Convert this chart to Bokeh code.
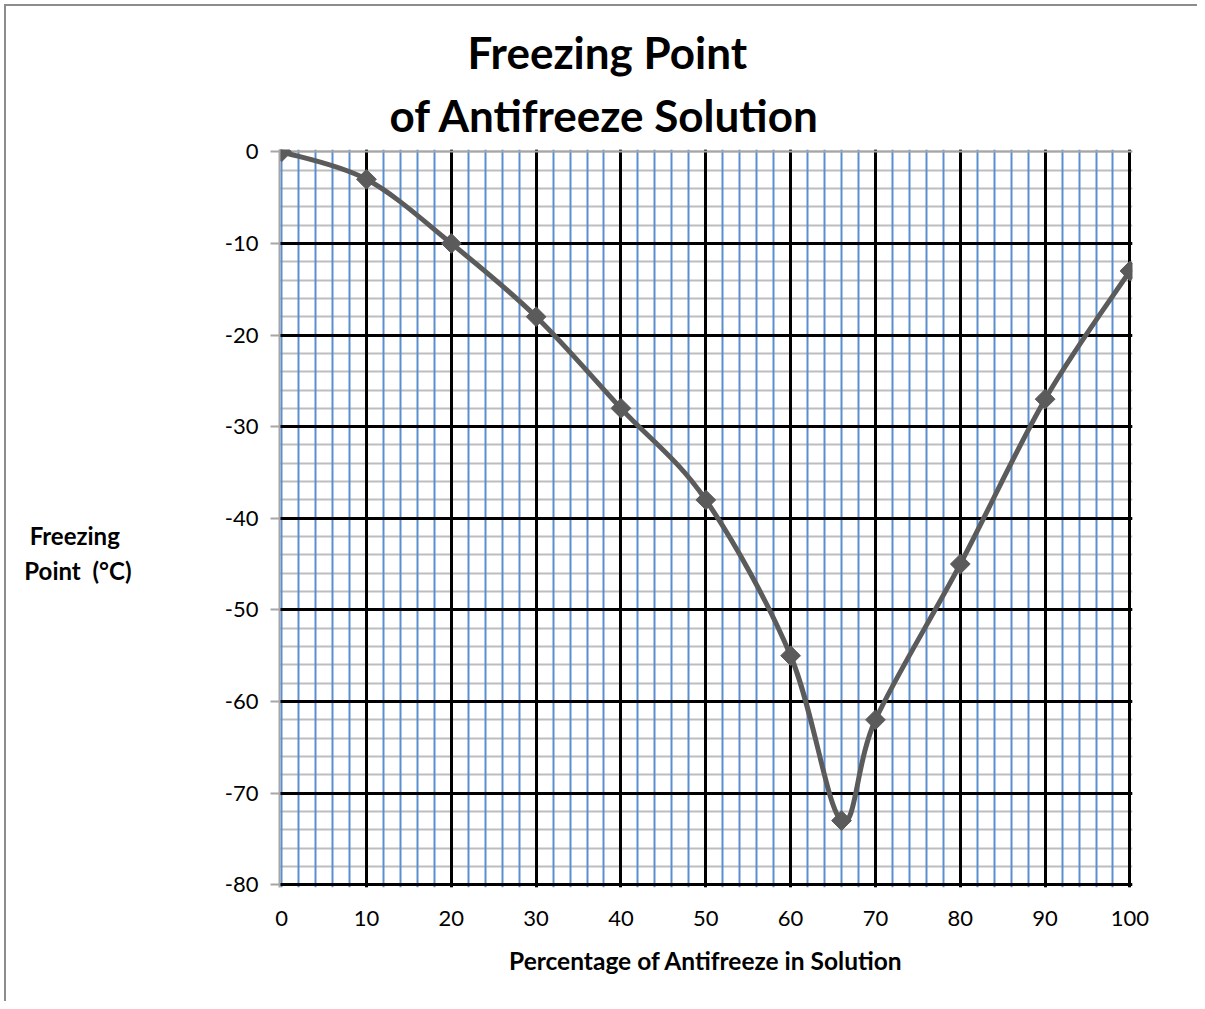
import numpy as np
from bokeh.plotting import figure
from bokeh.models import (Range1d, Grid, SingleIntervalTicker, FixedTicker,
                          LinearAxis, Title)
from bokeh.embed import file_html
from bokeh.resources import INLINE

# ---- data ----
percent = [0, 10, 20, 30, 40, 50, 60, 66, 70, 80, 90, 100]
freezing = [0, -3, -10, -18, -28, -38, -55, -73, -62, -45, -27, -13]
x_ticks = [0, 10, 20, 30, 40, 50, 60, 70, 80, 90, 100]
y_ticks = [-80, -70, -60, -50, -40, -30, -20, -10, 0]
title_lines = ["Freezing Point", "of Antifreeze Solution"]
x_label = "Percentage of Antifreeze in Solution"
y_label_lines = ["Freezing\u00a0\u00a0", "Point\u00a0 (°C)"]

FONT = "Lato"
LINE_COLOR = "#5b5b5b"
SHIFT = 6  # page offset introduced by margin + border

XR = (-0.25, 100.3)
YR = (-80.3, 0.25)

p = figure(width=1199, height=1001 - SHIFT, output_backend="svg",
           toolbar_location=None,
           x_range=Range1d(*XR), y_range=Range1d(*YR),
           min_border_left=279 - SHIFT, min_border_right=65, min_border_top=149 - SHIFT,
           min_border_bottom=114, background_fill_color="white")
p.styles = {"margin-left": "4px", "margin-top": "4px",
            "border-left": "2px solid #8c8c8c", "border-top": "2px solid #8c8c8c"}
p.frame_width = 853
p.frame_height = 738
p.outline_line_color = None
p.xgrid.visible = False
p.ygrid.visible = False
p.axis.visible = False

# grids (custom order: gray minor horiz, blue minor vert, black majors)
p.add_layout(Grid(dimension=1, ticker=SingleIntervalTicker(interval=2), bounds=YR,
                  grid_line_color="#bdbdbd", grid_line_width=2))
p.add_layout(Grid(dimension=0, ticker=SingleIntervalTicker(interval=2), bounds=XR,
                  grid_line_color="#5b8ed0", grid_line_width=2))
p.add_layout(Grid(dimension=1, ticker=FixedTicker(ticks=[t for t in y_ticks if t != 0]),
                  bounds=YR, grid_line_color="black", grid_line_width=3))
p.add_layout(Grid(dimension=0, ticker=FixedTicker(ticks=[t for t in x_ticks if t != 0]),
                  bounds=XR, grid_line_color="black", grid_line_width=3))
p.add_layout(Grid(dimension=1, ticker=FixedTicker(ticks=[0]), bounds=YR,
                  grid_line_color="#a6a6a6", grid_line_width=2))

# axes
xaxis = LinearAxis(ticker=FixedTicker(ticks=x_ticks), axis_label=x_label)
xaxis.axis_line_color = None
xaxis.major_tick_line_color = None
xaxis.minor_tick_line_color = None
xaxis.major_label_text_font = FONT
xaxis.major_label_text_font_size = "22px"
xaxis.major_label_text_color = "black"
xaxis.major_label_standoff = 17
xaxis.axis_label_text_font = FONT
xaxis.axis_label_text_font_style = "bold"
xaxis.axis_label_text_font_size = "24.5px"
xaxis.axis_label_text_color = "black"
xaxis.axis_label_standoff = 17
p.add_layout(xaxis, "below")

yaxis = LinearAxis(ticker=FixedTicker(ticks=y_ticks))
yaxis.major_label_overrides = {t: str(t) for t in y_ticks}
yaxis.axis_line_color = "#a6a6a6"
yaxis.axis_line_width = 2
yaxis.major_tick_line_color = "#a6a6a6"
yaxis.major_tick_line_width = 2
yaxis.major_tick_out = 9
yaxis.major_tick_in = 0
yaxis.minor_tick_line_color = None
yaxis.major_label_text_font = FONT
yaxis.major_label_text_font_size = "22px"
yaxis.major_label_text_color = "black"
yaxis.major_label_standoff = 12
p.add_layout(yaxis, "left")

# horizontal y-axis title on an extra, otherwise empty axis;
# two leading blank lines push the visible lines below the frame centre
ylab_axis = LinearAxis(ticker=FixedTicker(ticks=[]),
                       axis_label="\n".join(["\u00a0", "\u00a0"] + y_label_lines))
ylab_axis.axis_line_color = None
ylab_axis.major_tick_line_color = None
ylab_axis.minor_tick_line_color = None
ylab_axis.major_tick_out = 0
ylab_axis.major_label_standoff = 0
ylab_axis.axis_label_orientation = "horizontal"
ylab_axis.axis_label_standoff = 90
ylab_axis.axis_label_text_font = FONT
ylab_axis.axis_label_text_font_style = "bold"
ylab_axis.axis_label_text_font_size = "24px"
ylab_axis.axis_label_text_color = "black"
p.add_layout(ylab_axis, "left")

# smoothed line via cubic Bezier segments (Catmull-Rom style control points)
px = np.array(percent, dtype=float)
py = np.array(freezing, dtype=float)
n = len(px)
prev_i = np.r_[0, np.arange(n - 1)]
next_i = np.r_[np.arange(1, n), n - 1]
x0, y0 = px[:-1], py[:-1]
x1, y1 = px[1:], py[1:]
cx0 = px[:-1] + (px[next_i[:-1]] - px[prev_i[:-1]]) / 6
cy0 = py[:-1] + (py[next_i[:-1]] - py[prev_i[:-1]]) / 6
cx1 = px[1:] - (px[next_i[1:]] - px[prev_i[1:]]) / 6
cy1 = py[1:] - (py[next_i[1:]] - py[prev_i[1:]]) / 6
p.bezier(x0=x0, y0=y0, x1=x1, y1=y1, cx0=cx0, cy0=cy0, cx1=cx1, cy1=cy1,
         line_color=LINE_COLOR, line_width=5, line_cap="round")
p.scatter(px, py, marker="square", angle=np.pi / 4, size=14,
          fill_color=LINE_COLOR, line_color=LINE_COLOR)

# title (two lines): p.title is the outer one, added Title is next to the plot
p.title.text = title_lines[0]
p.title.align = "left"
p.title.offset = 188
p.title.text_font = FONT
p.title.text_font_style = "bold"
p.title.text_font_size = "44px"
p.title.text_color = "black"
p.title.standoff = 0
t2 = Title(text=title_lines[1], align="left", offset=110, text_font=FONT,
           text_font_style="bold", text_font_size="44px", text_color="black",
           standoff=18)
p.add_layout(t2, "above")

open("out.html", "w").write(file_html(p, INLINE))
